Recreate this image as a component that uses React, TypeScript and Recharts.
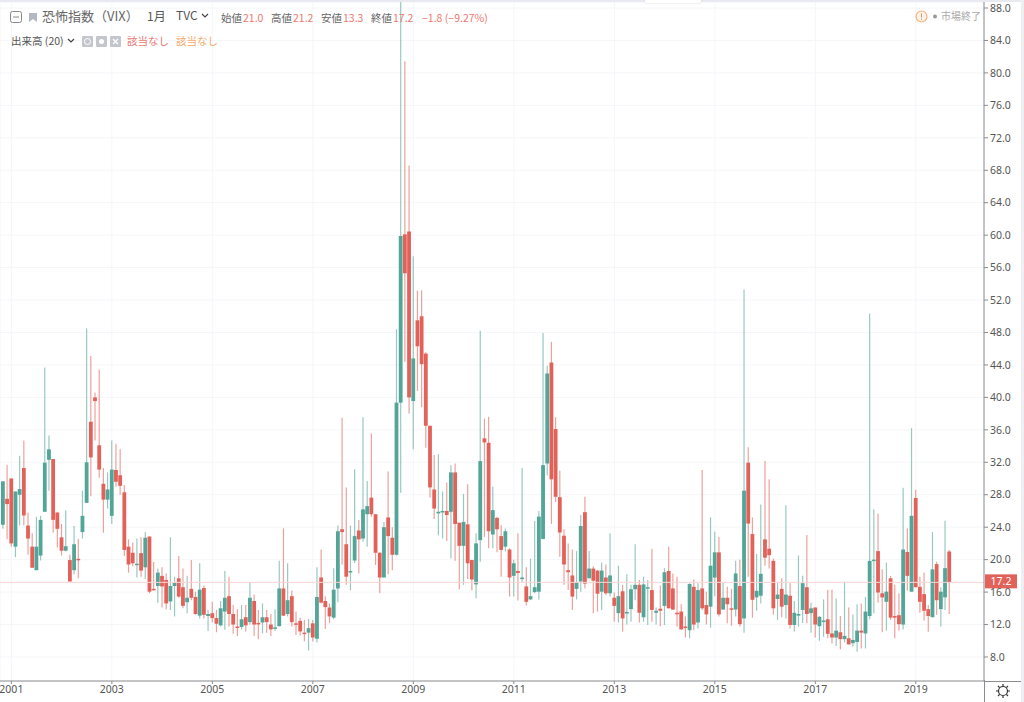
import { Bar, CartesianGrid, ComposedChart, ReferenceLine, XAxis, YAxis } from "recharts";

// monthly VIX candles, Nov 2000 .. Sep 2019
const opens = [
  24.3, 27.5, 30, 21.6, 28, 31.3, 24.2, 21.6, 18.7, 20.5,
  25.9, 32.3, 32.4, 25.8, 22.75, 21.1, 19.95, 18.7, 20.1, 23.4,
  27, 37, 40, 34.1, 29.35, 27.4, 25.4, 31.05, 30.4, 28.3,
  21.6, 20.85, 19.35, 20.8, 19.05, 22.85, 16.4, 16.75, 18, 17.5,
  14.85, 16.75, 17.7, 16.6, 14.75, 16.4, 15.4, 13.1, 16.5, 13.05,
  13.4, 12.8, 11.9, 13.6, 15.5, 13.3, 11.75, 11.7, 12.9, 12.3,
  14.9, 12.2, 12.25, 12.9, 12, 11.5, 11.8, 16.45, 13.3, 15.5,
  12.15, 12.45, 11, 11, 12.15, 10.25, 17.8, 14.9, 14.1, 12.85,
  16.45, 23.75, 21.9, 18.45, 19.9, 23.6, 22.6, 25.6, 27.65, 25.6,
  20.85, 17.8, 25.2, 22.7, 20.6, 39.35, 60.1, 60.45, 39.55, 49.5,
  50, 45.4, 36.5, 28.65, 25.7, 25.9, 26, 25.9, 30.75, 24.55,
  21.7, 24.35, 19.95, 16.95, 22.4, 34.95, 34.4, 23.1, 25.15, 22.9,
  21.6, 21.25, 18, 18.6, 17.6, 16.7, 15.1, 16, 16.05, 22.55,
  31.85, 44.3, 36.1, 27.7, 22.95, 18.7, 18.05, 16.4, 17.3, 25.85,
  17.7, 18.9, 18.65, 16.05, 17.8, 15.85, 15.3, 13.4, 16.1, 13.45,
  13.9, 16.35, 16.9, 12.9, 16.45, 16.25, 13.45, 13.95, 14.3, 18.6,
  16.45, 13.45, 13.6, 11.75, 11.3, 16.65, 12.25, 16.45, 14.4, 14.2,
  17.8, 20.9, 13.85, 15.3, 14, 13.85, 16.75, 12.75, 31.95, 23.15,
  15.35, 15.55, 22.5, 21.35, 19.85, 15.15, 16.4, 14.4, 15.55, 11.95,
  13.1, 13.8, 16.6, 13.4, 14.1, 11.8, 12.3, 12.65, 10.9, 10.4,
  11.05, 10.2, 10.3, 9.7, 9.85, 11.25, 10.9, 13.05, 19.9, 21.05,
  15.85, 14.8, 17.7, 13.05, 13.15, 12, 20.95, 16.05, 27.6, 16.65,
  15.75, 13.9, 12.9, 19.45, 13.9, 15.35, 21.0,
];
const highs = [
  29.65, 31.7, 30, 28.4, 32.8, 34.7, 25.8, 23.25, 25.3, 25.4,
  43.7, 35.3, 32.4, 25.9, 24.4, 26.1, 20.6, 24.15, 22.55, 28.5,
  48.5, 45.1, 40.6, 43.45, 31.3, 30.75, 34.7, 34.3, 33.6, 29.2,
  22.5, 22.1, 22.6, 22.75, 23.4, 22.85, 19.7, 18.9, 19.05, 18.3,
  22.75, 17.9, 20.45, 18.9, 18, 19.95, 16.05, 19.55, 16.8, 13.8,
  14.8, 13.8, 14.9, 18.6, 17.9, 14.4, 13.9, 14.4, 14.4, 17.2,
  15.7, 13.8, 14.6, 13.8, 13.3, 13.9, 19.85, 23.85, 19.55, 16.2,
  13.6, 12.85, 12.55, 12.7, 12.55, 19.05, 21.25, 15.5, 14.6, 18.95,
  24.2, 37.5, 28.9, 24.2, 31.15, 24.9, 37.55, 29.7, 35.55, 25.6,
  20.9, 24.65, 30.85, 24, 48.4, 89.5, 81.45, 68.6, 57.4, 53.15,
  53.2, 45.55, 36.5, 32.9, 33, 28.4, 29.5, 31.65, 31.85, 24.55,
  28.1, 29.3, 20, 23.25, 48.2, 37.4, 37.6, 29, 25.3, 24.25,
  23.85, 21.4, 20, 23.25, 31.3, 19.05, 20.1, 24.75, 26, 47.95,
  43.9, 46.85, 37.55, 30.95, 23.75, 22, 21.25, 21.05, 25.5, 27.75,
  21.05, 19.2, 18.7, 19.65, 19.4, 23.25, 15.95, 19.25, 16.9, 18.2,
  16.9, 21.9, 17.5, 17.9, 17.5, 21.35, 14.1, 16.8, 18.95, 21.6,
  18.3, 17.9, 14.5, 13, 17.1, 17.55, 17.1, 31.05, 16.05, 25.2,
  23.45, 22.8, 17.15, 16.65, 16.4, 19.85, 20, 53.3, 33.85, 25.2,
  20.7, 26.8, 32.15, 29.9, 20.15, 17.15, 17.7, 26.7, 17.1, 14.9,
  20.5, 18, 23.05, 14.7, 14.1, 13.05, 15.1, 16.3, 16.3, 15.2,
  13.05, 17.3, 14.1, 13.25, 14.5, 14.6, 15.4, 50.35, 26.2, 25.7,
  18.8, 19.65, 18, 16.9, 15.85, 28.85, 23.85, 36.2, 28.6, 17.9,
  18.4, 14.4, 23.4, 19.75, 16.6, 24.8, 21.2,
];
const lows = [
  23.8, 22.5, 21.6, 20.3, 24.2, 24.2, 20.6, 19, 18.7, 19.9,
  25.9, 28.5, 23.3, 21.5, 20.5, 21, 17.3, 18.2, 17.7, 22.6,
  27, 27.8, 34.7, 30.1, 23.3, 26.3, 24.4, 29, 28, 20.45,
  18.4, 19.2, 17.8, 17.9, 17.6, 15.85, 16.2, 14.7, 14.1, 13.9,
  13.8, 13, 15.3, 14, 13.4, 15, 13.2, 12.75, 12.75, 11.2,
  12.25, 11.05, 11.75, 11.35, 11.75, 10.85, 10.6, 11.4, 11.15, 12,
  10.6, 10.2, 10.9, 11, 10.6, 11.2, 11.75, 13.05, 13, 11.75,
  10.7, 10.65, 9.95, 8.8, 9.9, 9.8, 14.6, 11.45, 12.15, 12.65,
  14.75, 19.4, 16.9, 16.2, 19.6, 18.3, 22.2, 21.6, 25.3, 19.35,
  15.85, 17.8, 18.2, 18.7, 20.5, 28.25, 44.4, 38, 33.6, 40.8,
  38.8, 33.8, 27.65, 25, 23, 22.6, 22.3, 20.15, 19.85, 16.35,
  16.9, 17.6, 16.2, 15.25, 19.75, 22.8, 21.4, 21.4, 20.9, 17.9,
  21, 15.45, 15.45, 14.95, 17.15, 14.35, 15, 15.85, 15.1, 22.5,
  30.4, 24.4, 27.15, 20.35, 16.9, 16.25, 13.8, 15.1, 16.05, 16.45,
  17.7, 13.4, 13.6, 13.8, 15.65, 15.45, 12.35, 12.25, 11.15, 12,
  12.35, 15, 12.25, 12.35, 11.95, 12.35, 12, 11.8, 11.95, 14,
  13.8, 11.75, 11.4, 10.4, 10.3, 11.3, 11.5, 13.8, 12, 11.6,
  15.5, 13, 13.8, 12.15, 11.85, 13, 11.75, 11, 17.9, 12.85,
  13.7, 14.6, 19.25, 18.9, 13.2, 12.55, 12.9, 12.75, 11.5, 11.15,
  11.75, 12.2, 12.15, 11, 10.4, 10, 10.5, 10.3, 9.65, 9.35,
  8.95, 9.8, 9.55, 9.3, 8.65, 9.05, 9.05, 12.65, 13.4, 14.7,
  11.05, 11.25, 12.55, 10.3, 11.25, 11.4, 16.2, 16.05, 16.6, 13.45,
  12.5, 11.1, 12.9, 13.2, 11.75, 13.8, 13.3,
];
const closes = [
  29.65, 26.85, 22, 28.4, 28.7, 25.45, 22.6, 19, 21.6, 24.9,
  31.95, 33.6, 24.9, 23.8, 21.1, 21.65, 17.3, 21.9, 20, 25.4,
  32, 32.6, 39.55, 31.1, 27.4, 28.65, 31.1, 29.6, 29.1, 21.2,
  19.4, 19.55, 19.5, 18.65, 22.7, 16.05, 16.3, 18.4, 16.7, 14.6,
  16.75, 17.15, 15.45, 14.3, 15.3, 15.3, 13.3, 16.3, 13.2, 13.3,
  12.8, 12.1, 14, 15.3, 13.3, 12, 11.6, 12.65, 11.9, 15.3,
  12, 12.1, 12.9, 12.3, 11.4, 11.65, 16.45, 13.1, 15, 12.3,
  12, 11.15, 10.9, 11.55, 10.4, 15.4, 14.7, 14.15, 13, 16.3,
  23.5, 23.4, 17.9, 18.6, 22.9, 22.5, 26.2, 26.6, 25.6, 20.85,
  17.8, 24, 22.9, 20.6, 39.35, 59.9, 55.3, 40, 44.8, 46.3,
  44.1, 36.5, 28.9, 26.3, 25.9, 26, 25.5, 30.75, 24.4, 21.7,
  24.65, 19.55, 17.55, 22, 32.15, 34.45, 23.5, 26.1, 23.75, 21.2,
  23.5, 17.8, 19.55, 18.35, 17.8, 14.8, 15.5, 16.6, 25.3, 31.65,
  42.95, 29.9, 27.75, 23.35, 19.4, 18.45, 15.45, 17.2, 24.15, 17.05,
  18.9, 17.4, 15.8, 18.65, 15.85, 18.05, 14.3, 15.5, 12.75, 13.55,
  16.35, 16.9, 13.45, 16.95, 16.6, 13.8, 13.7, 13.7, 18.45, 14,
  13.85, 13.35, 11.4, 11.6, 17, 12, 16.25, 14, 13.25, 19.25,
  20.9, 13.25, 15.3, 14.5, 13.85, 18.3, 12.05, 28.5, 24.45, 15.05,
  16.15, 18.25, 20.25, 20.55, 14, 15.7, 14.2, 15.7, 11.95, 13.45,
  13.3, 17.1, 13.3, 14, 12, 12.95, 12.5, 10.85, 10.4, 11.25,
  10.2, 10.6, 9.55, 10.1, 11.25, 11, 13.6, 19.85, 20, 15.95,
  15.35, 16.05, 12.85, 12.85, 12.05, 21.25, 18, 25.4, 16.6, 14.8,
  13.7, 13.05, 18.8, 15, 16.05, 18.95, 17.2,
];

const yearTicks = ["2001", "2003", "2005", "2007", "2009", "2011", "2013", "2015", "2017", "2019"];
const priceTicks = [8, 12, 16, 20, 24, 28, 32, 36, 40, 44, 48, 52, 56, 60, 64, 68, 72, 76, 80, 84, 88];
const lastPrice = 17.2;

const UP = "#53a598";
const DOWN = "#e2625a";
const UI_FONT = '"Noto Sans CJK JP", "Noto Sans", sans-serif';

const monthLabel = (i: number) => {
  const m = 10 + i; // index 0 = Nov 2000
  return `${2000 + Math.floor(m / 12)}-${String((m % 12) + 1).padStart(2, "0")}`;
};

const data = opens.map((open, i) => ({
  month: monthLabel(i),
  open,
  close: closes[i],
  high: highs[i],
  low: lows[i],
  range: [lows[i], highs[i]],
}));

function Candle(props: any) {
  const { x, y, width, height, payload } = props;
  const { open, close, high, low } = payload;
  const perUnit = Math.abs(height) / (high - low);
  const at = (v: number) => y + (high - v) * perUnit;
  const color = close >= open ? UP : DOWN;
  const cx = x + width / 2;
  const top = at(Math.max(open, close));
  const bodyH = Math.max(1.5, at(Math.min(open, close)) - top);
  return (
    <g>
      <line x1={cx} x2={cx} y1={y} y2={y + Math.abs(height)} stroke={color} strokeOpacity={0.6} strokeWidth={1.2} />
      <rect x={cx - 1.9} y={top} width={3.8} height={bodyH} fill={color} />
    </g>
  );
}

function PriceTag(props: any) {
  const { viewBox } = props;
  const right = viewBox.x + viewBox.width;
  return (
    <g>
      <rect x={right + 1} y={viewBox.y - 8} width={32} height={14} fill={DOWN} />
      <text x={right + 17} y={viewBox.y + 3} textAnchor="middle" fontSize={10.5} fontFamily='"Noto Sans", sans-serif' fill="#fff">
        {lastPrice.toFixed(1)}
      </text>
    </g>
  );
}

function Txt({ x, y, size = 10.5, color = "#666", children }: any) {
  return (
    <div
      style={{
        position: "absolute",
        left: x,
        top: y,
        fontSize: size,
        color,
        fontFamily: UI_FONT,
        lineHeight: "14px",
        whiteSpace: "nowrap",
      }}
    >
      {children}
    </div>
  );
}

function Caret({ x, y }: { x: number; y: number }) {
  return (
    <svg style={{ position: "absolute", left: x, top: y }} width={8} height={6}>
      <path d="M1 1 L4 4 L7 1" fill="none" stroke="#444" strokeWidth={1.2} />
    </svg>
  );
}

function Header() {
  const red = "#ef7770";
  return (
    <>
      <svg style={{ position: "absolute", left: 10, top: 11 }} width={30} height={14}>
        <rect x={0.5} y={0.5} width={11} height={11} rx={2} fill="none" stroke="#888" />
        <line x1={3} x2={9} y1={6} y2={6} stroke="#888" />
        <path d="M19 2 H27 V11 L23 8 L19 11 Z" fill="#b4b8c0" />
      </svg>
      <Txt x={42} y={9} size={13} color="#666">恐怖指数（VIX）</Txt>
      <Txt x={147} y={9} size={12} color="#555">1月</Txt>
      <Txt x={176} y={8} size={12} color="#555">TVC</Txt>
      <Caret x={201} y={13} />
      <Txt x={221} y={11}>始値</Txt>
      <Txt x={243} y={11} color={red}>21.0</Txt>
      <Txt x={271} y={11}>高値</Txt>
      <Txt x={293} y={11} color={red}>21.2</Txt>
      <Txt x={321} y={11}>安値</Txt>
      <Txt x={343} y={11} color={red}>13.3</Txt>
      <Txt x={371} y={11}>終値</Txt>
      <Txt x={393} y={11} color={red}>17.2</Txt>
      <Txt x={422} y={11} color={red}>−1.8 (−9.27%)</Txt>
      <Txt x={11} y={34} color="#555">出来高 (20)</Txt>
      <Caret x={67} y={38} />
      <svg style={{ position: "absolute", left: 82, top: 36 }} width={40} height={12}>
        <rect width={11} height={11} rx={1} fill="#c3c6cc" />
        <circle cx={5.5} cy={5.5} r={3} fill="none" stroke="#fff" />
        <rect x={14} width={11} height={11} rx={1} fill="#c3c6cc" />
        <circle cx={19.5} cy={5.5} r={2.5} fill="#fff" />
        <rect x={28} width={11} height={11} rx={1} fill="#c3c6cc" />
        <path d="M31 3 L36 8 M36 3 L31 8" stroke="#fff" strokeWidth={1.3} />
      </svg>
      <Txt x={127} y={34} color="#ea7a74">該当なし</Txt>
      <Txt x={176} y={34} color="#f5a96b">該当なし</Txt>
      <svg style={{ position: "absolute", left: 915, top: 10 }} width={24} height={14}>
        <circle cx={6.5} cy={6.5} r={5.5} fill="#fdf3ea" stroke="#f5b27c" strokeWidth={1.2} />
        <line x1={6.5} x2={6.5} y1={3.5} y2={7.5} stroke="#f0955a" />
        <line x1={6.5} x2={6.5} y1={8.5} y2={9.8} stroke="#f0955a" />
        <circle cx={20} cy={6.5} r={2} fill="#999" />
      </svg>
      <Txt x={941} y={9} size={10} color="#aaa">市場終了</Txt>
    </>
  );
}

function Frame() {
  return (
    <>
      <div style={{ position: "absolute", left: 0, top: 0, width: 1024, height: 2, background: "#e9e9f1" }} />
      <div style={{ position: "absolute", left: 645, top: 0, width: 56, height: 3, background: "#fff", boxShadow: "0 0 2px #ccc" }} />
      <div style={{ position: "absolute", left: 1021, top: 0, width: 3, height: 702, background: "#eeeef3" }} />
      <div style={{ position: "absolute", left: 984, top: 680, width: 1, height: 22, background: "#8c8c90" }} />
      <div style={{ position: "absolute", left: 984, top: 681, width: 37, height: 1, background: "#8c8c90" }} />
      <svg style={{ position: "absolute", left: 995, top: 683 }} width={16} height={16}>
        <circle cx={8} cy={8} r={4.5} fill="none" stroke="#333" strokeWidth={1.2} />
        <path
          d="M8 1 V3 M8 13 V15 M1 8 H3 M13 8 H15 M3 3 L4.6 4.6 M11.4 11.4 L13 13 M13 3 L11.4 4.6 M4.6 11.4 L3 13"
          stroke="#333"
          strokeWidth={1.2}
        />
      </svg>
    </>
  );
}

export default function App() {
  return (
    <div style={{ position: "absolute", left: 0, top: 0, width: 1024, height: 702, overflow: "hidden", background: "#fff" }}>
      <ComposedChart
        width={1024}
        height={702}
        data={data}
        margin={{ top: 2, right: 0, bottom: 0, left: 0 }}
        barCategoryGap={0}
        barGap={0}
      >
        <CartesianGrid stroke="#f5f6f9" strokeWidth={1} />
        <XAxis
          dataKey="month"
          ticks={yearTicks.map((y) => `${y}-01`)}
          interval={0}
          tickFormatter={(m: string) => m.slice(0, 4)}
          padding={{ left: 0.9, right: 32.6 }}
          height={21}
          tickSize={3}
          tickMargin={2}
          stroke="#8c8c90"
          tick={{ fontSize: 10.5, fill: "#555", fontFamily: '"Noto Sans", sans-serif' }}
        />
        <YAxis
          orientation="right"
          width={40}
          domain={[5.04, 88.74]}
          allowDataOverflow
          ticks={priceTicks}
          interval={0}
          tickFormatter={(v: number) => v.toFixed(1)}
          tickSize={4}
          tickMargin={2}
          stroke="#8c8c90"
          tick={{ fontSize: 10.5, fill: "#555", fontFamily: '"Noto Sans", sans-serif', textAnchor: "start" }}
        />
        <ReferenceLine y={lastPrice} stroke="#f8d5d2" strokeWidth={1} label={<PriceTag />} />
        <Bar dataKey="range" shape={<Candle />} isAnimationActive={false} />
      </ComposedChart>
      <Header />
      <Frame />
    </div>
  );
}
